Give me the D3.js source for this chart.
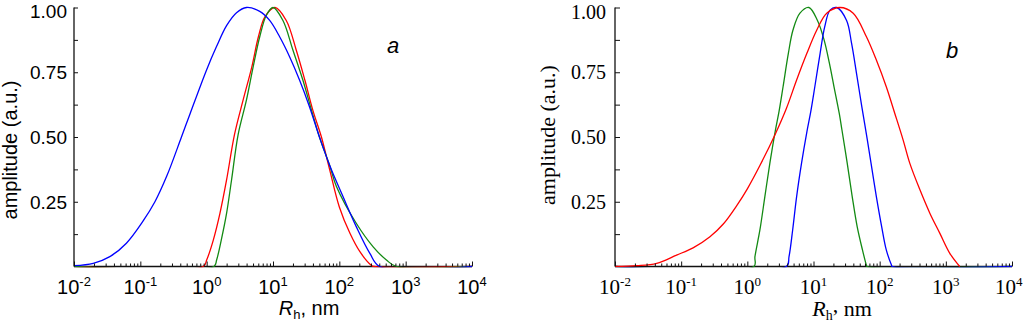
<!DOCTYPE html>
<html><head><meta charset="utf-8">
<script src="https://cdn.jsdelivr.net/npm/d3@7"></script>
<style>body{margin:0;background:#fff;}</style>
</head><body>
<svg id="c" width="1024" height="327"></svg>
<script>
// ---------- data ----------
const decadeExponents = [-2, -1, 0, 1, 2, 3, 4];
const yLabelValues = [0.25, 0.50, 0.75, 1.00];
const yMinorValues = [0.125, 0.375, 0.625, 0.875];

// panel a
const aRedLogR = [-2, -0.05, 0.0, 0.10, 0.20, 0.30, 0.42, 0.55, 0.68, 0.78, 0.88, 1.03, 1.20, 1.35, 1.48, 1.60, 1.73, 1.855, 2.0, 2.16, 2.31, 2.48, 2.52, 4];
const aRedAmp  = [0, 0, 0.025, 0.102, 0.205, 0.334, 0.51, 0.643, 0.77, 0.887, 0.965, 1.0, 0.95, 0.836, 0.72, 0.604, 0.50, 0.373, 0.23, 0.128, 0.057, 0.005, 0, 0];
const aGreenLogR = [-2, 0.11, 0.15, 0.22, 0.30, 0.375, 0.475, 0.60, 0.70, 0.80, 0.90, 1.0, 1.15, 1.30, 1.45, 1.58, 1.70, 1.855, 1.955, 2.255, 2.51, 2.71, 2.86, 4];
const aGreenAmp  = [0, 0, 0.025, 0.102, 0.205, 0.334, 0.51, 0.643, 0.77, 0.887, 0.97, 1.0, 0.95, 0.836, 0.72, 0.604, 0.50, 0.39, 0.31, 0.167, 0.076, 0.025, 0, 0];
const aBlueLogR = [-2, -1.71, -1.46, -1.21, -0.96, -0.78, -0.6, -0.38, -0.25, 0.0, 0.15, 0.30, 0.45, 0.60, 0.80, 0.95, 1.10, 1.25, 1.40, 1.55, 1.70, 1.855, 2.055, 2.255, 2.46, 2.61, 4];
const aBlueAmp  = [0.003, 0.012, 0.038, 0.09, 0.175, 0.25, 0.35, 0.50, 0.59, 0.76, 0.85, 0.93, 0.98, 1.0, 0.985, 0.95, 0.887, 0.81, 0.72, 0.617, 0.50, 0.39, 0.27, 0.154, 0.051, 0, 0];

// panel b
const bGreenLogR = [-2, 0.10, 0.115, 0.19, 0.265, 0.34, 0.42, 0.48, 0.54, 0.62, 0.69, 0.795, 0.93, 1.06, 1.16, 1.24, 1.31, 1.39, 1.43, 1.51, 1.585, 1.66, 1.74, 1.80, 1.81, 4];
const bGreenAmp  = [0, 0, 0.038, 0.141, 0.27, 0.398, 0.52, 0.60, 0.694, 0.823, 0.913, 0.978, 1.0, 0.95, 0.875, 0.785, 0.694, 0.59, 0.527, 0.398, 0.27, 0.154, 0.064, 0.005, 0, 0];
const bBlueLogR = [-2, 0.59, 0.63, 0.685, 0.745, 0.82, 0.90, 0.96, 1.02, 1.10, 1.17, 1.25, 1.35, 1.50, 1.575, 1.65, 1.73, 1.80, 1.87, 1.95, 2.03, 2.10, 2.18, 2.19, 4];
const bBlueAmp  = [0, 0, 0.038, 0.141, 0.27, 0.40, 0.52, 0.60, 0.694, 0.823, 0.926, 0.99, 1.0, 0.95, 0.862, 0.746, 0.617, 0.51, 0.398, 0.27, 0.154, 0.064, 0.005, 0, 0];
const bRedLogR = [-2, -1.67, -1.37, -1.07, -0.82, -0.565, -0.36, -0.16, 0.0, 0.19, 0.42, 0.59, 0.745, 0.90, 1.05, 1.20, 1.40, 1.60, 1.80, 1.95, 2.10, 2.23, 2.355, 2.456, 2.61, 2.76, 2.91, 3.06, 3.21];
const bRedAmp  = [0, 0.003, 0.012, 0.044, 0.072, 0.115, 0.165, 0.235, 0.30, 0.39, 0.51, 0.61, 0.72, 0.823, 0.913, 0.978, 1.0, 0.978, 0.887, 0.797, 0.694, 0.59, 0.488, 0.398, 0.295, 0.205, 0.128, 0.051, 0];

// ---------- drawing ----------
const svg = d3.select("#c");
const sans = "'Liberation Sans', Arial, sans-serif";
const serif = "'Liberation Serif', 'Times New Roman', serif";

function drawPanel(p, idx) {
  const x = d3.scaleLog().domain([1e-2, 1e4]).range([p.x0, p.x1]);
  const y = d3.scaleLinear().domain([0, 1]).range([266.5, 7.5]);
  const g = svg.append("g");
  const axisColor = "#111";

  const clipId = "clip" + idx;
  svg.append("clipPath").attr("id", clipId).append("rect")
    .attr("x", p.x0).attr("y", 0).attr("width", p.x1 - p.x0 + 2).attr("height", y(0) + 0.7);

  // axis lines
  g.append("line").attr("x1", p.x0).attr("x2", p.x1).attr("y1", y(0)).attr("y2", y(0))
    .attr("stroke", axisColor).attr("stroke-width", 1.3);
  g.append("line").attr("x1", p.x0).attr("x2", p.x0).attr("y1", y(0)).attr("y2", y(1))
    .attr("stroke", axisColor).attr("stroke-width", 1.3);

  // series
  const line = d3.line().curve(d3.curveCatmullRom.alpha(0.5));
  const sg = g.append("g").attr("clip-path", `url(#${clipId})`);
  p.series.forEach(s => {
    const pts = s.logR.map((l, i) => [x(Math.pow(10, l)), y(s.amp[i])]);
    sg.append("path").attr("d", line(pts)).attr("fill", "none")
      .attr("stroke", s.color).attr("stroke-width", 1.3).attr("stroke-linejoin", "round");
  });

  // x ticks
  const majors = decadeExponents.map(e => Math.pow(10, e));
  const minors = [];
  decadeExponents.slice(0, -1).forEach(e => { for (let k = 2; k <= 9; k++) minors.push(k * Math.pow(10, e)); });
  const ax1 = g.append("g").attr("transform", `translate(0,${y(0)})`)
    .call(d3.axisBottom(x).tickValues(majors).tickSize(-p.majorTick).tickFormat(""));
  const ax2 = g.append("g").attr("transform", `translate(0,${y(0)})`)
    .call(d3.axisBottom(x).tickValues(minors).tickSize(-p.minorTick).tickFormat(""));
  [ax1, ax2].forEach(a => { a.select(".domain").remove(); a.selectAll("line").attr("stroke", axisColor).attr("stroke-width", 1); });

  // y ticks
  const ay1 = g.append("g").attr("transform", `translate(${p.x0},0)`)
    .call(d3.axisLeft(y).tickValues(yLabelValues).tickSize(-p.yTick).tickFormat(""));
  const ay2 = g.append("g").attr("transform", `translate(${p.x0},0)`)
    .call(d3.axisLeft(y).tickValues(yMinorValues).tickSize(-p.yTick).tickFormat(""));
  [ay1, ay2].forEach(a => { a.select(".domain").remove(); a.selectAll("line").attr("stroke", axisColor).attr("stroke-width", 1); });

  // x tick labels
  decadeExponents.forEach(e => {
    const t = g.append("text").attr("x", x(Math.pow(10, e))).attr("y", 294)
      .attr("text-anchor", "middle").attr("font-family", p.font).attr("font-size", p.tickFont).attr("fill", "#000");
    t.append("tspan").text("10");
    t.append("tspan").attr("font-size", p.supFont).attr("dy", -8).text(String(e));
    const bb = t.node().getBBox();
    if (bb.x + bb.width > 1023) t.attr("x", +t.attr("x") - (bb.x + bb.width - 1023));
  });

  // y tick labels
  yLabelValues.forEach(v => {
    const t = g.append("text").attr("x", p.x0 - p.yLabelGap).attr("y", y(v) + 7)
      .attr("text-anchor", "end").attr("font-family", p.font).attr("font-size", p.yTickFont)
      .attr("fill", "#000").text(d3.format(".2f")(v));
    const bb = t.node().getBBox();
    if (bb.y < 0.5) t.attr("y", y(v) + 7 + (0.5 - bb.y));
  });

  // y title
  g.append("text").attr("transform", `translate(${p.yTitleX},${p.yTitleY}) rotate(-90)`)
    .attr("text-anchor", "middle").attr("font-family", p.font).attr("font-size", p.titleFont)
    .attr("fill", "#000").text("amplitude (a.u.)");

  // x title
  const xt = g.append("text").attr("x", p.xTitleX).attr("y", p.xTitleY)
    .attr("text-anchor", "middle").attr("font-family", p.font).attr("font-size", p.titleFont).attr("fill", "#000");
  xt.append("tspan").attr("font-style", "italic").text("R");
  xt.append("tspan").attr("font-size", p.subFont).attr("dy", 4).text("h");
  if (p.raisedComma) {
    xt.append("tspan").attr("dy", -8).text(",");
    xt.append("tspan").attr("dy", 4).text(" nm");
  } else {
    xt.append("tspan").attr("dy", -4).text(", nm");
  }

  // panel letter
  g.append("text").attr("x", p.letterX).attr("y", p.letterY).attr("font-family", sans)
    .attr("font-style", "italic").attr("font-size", 22).attr("fill", "#000").text(p.letter);
}

drawPanel({
  x0: 74, x1: 472, font: sans, tickFont: 20, supFont: 13, yTickFont: 19, titleFont: 20, subFont: 13,
  majorTick: 5, minorTick: 3, yTick: 4, yLabelGap: 7,
  yTitleX: 17, yTitleY: 150, xTitleX: 309, xTitleY: 315, raisedComma: false,
  letter: "a", letterX: 387, letterY: 53,
  series: [
    { logR: aRedLogR, amp: aRedAmp, color: "#ff0000" },
    { logR: aGreenLogR, amp: aGreenAmp, color: "#138a13" },
    { logR: aBlueLogR, amp: aBlueAmp, color: "#0000ff" }
  ]
}, 0);

drawPanel({
  x0: 615, x1: 1012, font: serif, tickFont: 21, supFont: 13, yTickFont: 20, titleFont: 22, subFont: 14,
  majorTick: 5, minorTick: 3, yTick: 5, yLabelGap: 9,
  yTitleX: 555, yTitleY: 135, xTitleX: 842, xTitleY: 316, raisedComma: true,
  letter: "b", letterX: 946, letterY: 58,
  series: [
    { logR: bGreenLogR, amp: bGreenAmp, color: "#138a13" },
    { logR: bBlueLogR, amp: bBlueAmp, color: "#0000ff" },
    { logR: bRedLogR, amp: bRedAmp, color: "#ff0000" }
  ]
}, 1);
</script>
</body></html>
